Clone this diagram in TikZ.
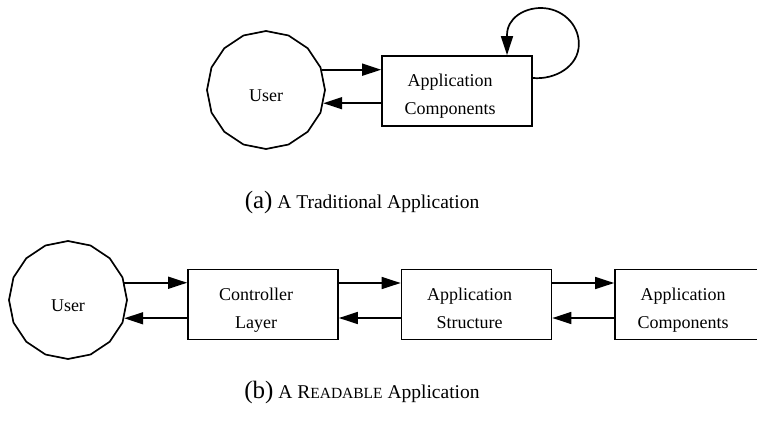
\documentclass[tikz,border=0pt]{standalone}
\usepackage{fontspec}
\setmainfont{Liberation Serif}
\usetikzlibrary{shapes.geometric,arrows.meta,calc}
\begin{document}
\begin{tikzpicture}[x=1pt,y=1pt,
  usernode/.style={draw, regular polygon, regular polygon sides=16, shape border rotate=11.25, minimum size=118pt, inner sep=0pt, line width=1.7pt, font=\fontsize{18}{22}\selectfont},
  boxnode/.style={draw, rectangle, minimum width=150pt, minimum height=70pt, inner sep=0pt, line width=1.7pt},
  lbl/.style={font=\fontsize{18}{28}\selectfont, align=center, xshift=-7pt, yshift=-4pt, inner sep=0pt},
  conn/.style={line width=1.7pt, -{Triangle[length=19pt,width=12pt]}},
  captxt/.style={font=\fontsize{19.5}{24}\selectfont, inner sep=0pt}
]
\clip (0,0) rectangle (757,424);
% (a)
\node[usernode] (u1) at (266,334) {\raisebox{-11pt}[0pt][0pt]{User}};
\node[boxnode, label={[lbl]center:{\strut Application\\\strut Components}}] (ac1) at (457,333) {};
\draw[conn] (u1.20) -- (u1.20 -| ac1.west);
\draw[conn] (ac1.west |- u1.-13) -- (u1.-13);
\coordinate (l1) at ($(ac1.east)+(46,47)$);
\coordinate (l2) at ($(ac1.east)+(8,83)$);
\coordinate (l3) at ($(ac1.north)+(50,20)$);
\draw[conn] ([yshift=13pt]ac1.east) to[out=-5,in=-90] (l1) to[out=90,in=0] (l2) to[out=180,in=90] (l3) -- ([xshift=50pt]ac1.north);
\node[captxt] (capa) at (362,222) {{\fontsize{25}{28}\selectfont(a)} A Traditional Application};
% (b)
\node[usernode] (u2) at (68,124) {\raisebox{-11pt}[0pt][0pt]{User}};
\node[boxnode, label={[lbl]center:{\strut Controller\\\strut Layer}}] (cl) at (263,119.5) {};
\node[boxnode, label={[lbl]center:{\strut Application\\\strut Structure}}] (as) at (476.5,119.5) {};
\node[boxnode, label={[lbl]center:{\strut Application\\\strut Components}}] (ac2) at (690,119.5) {};
\draw[conn] (u2.17) -- (u2.17 -| cl.west);
\draw[conn] (cl.west |- u2.-18) -- (u2.-18);
\draw[conn] ([yshift=21.5pt]cl.east) -- ([yshift=21.5pt]as.west);
\draw[conn] ([yshift=-13.5pt]as.west) -- ([yshift=-13.5pt]cl.east);
\draw[conn] ([yshift=21.5pt]as.east) -- ([yshift=21.5pt]ac2.west);
\draw[conn] ([yshift=-13.5pt]ac2.west) -- ([yshift=-13.5pt]as.east);
\node[captxt] (capb) at (362,32) {{\fontsize{25}{28}\selectfont(b)} A R{\fontsize{15.5}{20}\selectfont EADABLE} Application};
\end{tikzpicture}
\end{document}
